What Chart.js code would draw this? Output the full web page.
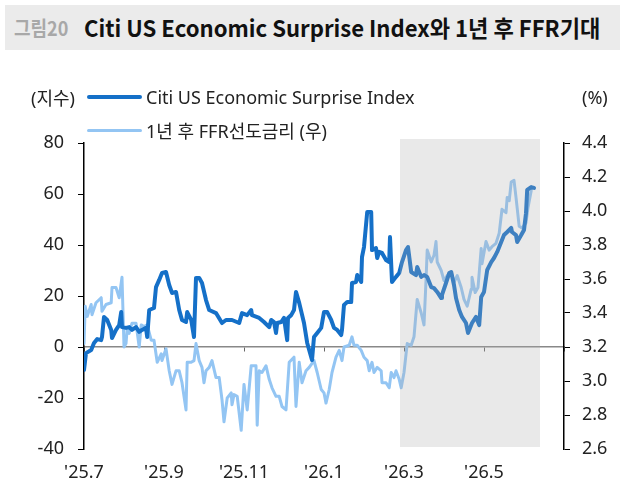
<!DOCTYPE html>
<html>
<head>
<meta charset="utf-8">
<script src="https://cdn.jsdelivr.net/npm/chart.js@4.4.1/dist/chart.umd.min.js"></script>
<style>
  body { margin: 0; background: #fff; }
  #wrap { position: relative; width: 626px; height: 496px; overflow: hidden; font-family: 'Noto Sans', 'Noto Sans CJK KR', sans-serif; }
  #myChart { position: absolute; left: 0; top: 0; }
  .abs { position: absolute; white-space: nowrap; }
  #titleBar { left: 5px; top: 5px; width: 615px; height: 45px; background: #ebebeb; }
  #figNo { left: 14px; top: 27px; font: bold 20px 'Noto Sans CJK KR'; color: #a8a8a8; transform-origin: left center; transform: translateY(-50%); }
  #figTitle { left: 84px; top: 27px; font: bold 23px 'Noto Sans CJK KR'; color: #111; transform-origin: left center; }
  .leg { font-size: 18px; color: #222; transform: translateY(-50%); }
  .swatch { position: absolute; height: 0; border-radius: 2px; }
</style>
</head>
<body>
<div id="wrap">
  <canvas id="myChart" width="626" height="496"></canvas>
  <div class="abs" id="titleBar"></div>
  <div class="abs" id="figNo">그림20</div>
  <div class="abs" id="figTitle">Citi US Economic Surprise Index와 1년 후 FFR기대</div>
  <div class="abs leg" style="left:31px; top:97px;">(지수)</div>
  <div class="swatch" style="left:87px; top:95px; width:55px; border-top:4px solid #1570c8;"></div>
  <div class="abs leg" style="left:146px; top:97px;">Citi US Economic Surprise Index</div>
  <div class="swatch" style="left:87px; top:129px; width:55px; border-top:3px solid #93c5f3;"></div>
  <div class="abs leg" style="left:146px; top:130px;">1년 후 FFR선도금리 (우)</div>
  <div class="abs leg" style="left:582px; top:97px;">(%)</div>
</div>
<script>
// x values are months counted from '25.7
var monthLabels = ["'25.7", "'25.9", "'25.11", "'26.1", "'26.3", "'26.5"];

var citiMonth = [0.00,0.05,0.18,0.25,0.33,0.43,0.45,0.50,0.58,0.68,0.70,0.80,0.88,0.93,0.95,1.05,1.13,1.20,1.30,1.38,
  1.45,1.55,1.58,1.63,1.75,1.80,1.88,1.95,2.05,2.13,2.20,2.30,2.38,2.45,2.55,2.58,2.68,2.75,2.80,2.88,
  2.95,3.05,3.13,3.30,3.45,3.55,3.70,3.88,3.95,4.08,4.18,4.20,4.38,4.50,4.63,4.68,4.75,4.80,4.83,4.93,
  5.00,5.08,5.10,5.18,5.25,5.30,5.38,5.50,5.58,5.70,5.75,5.83,5.93,6.00,6.08,6.18,6.25,6.33,6.43,6.45,
  6.50,6.58,6.68,6.70,6.80,6.83,6.93,6.95,7.00,7.08,7.18,7.20,7.30,7.33,7.38,7.45,7.55,7.63,7.65,7.70,
  7.80,7.88,7.95,8.05,8.10,8.18,8.30,8.33,8.43,8.50,8.58,8.68,8.75,8.83,8.93,8.95,9.05,9.13,9.18,9.25,
  9.30,9.38,9.45,9.55,9.60,9.70,9.80,9.88,9.93,10.00,10.08,10.18,10.25,10.33,10.43,10.50,10.58,10.68,10.70,10.80,
  10.83,10.93,11.00,11.05,11.08,11.18,11.25];
var citiValue = [-9.0,-2.4,-1.2,1.6,3.1,2.7,3.9,11.8,10.6,6.7,3.5,6.7,8.6,13.7,7.8,7.5,7.8,6.7,7.8,5.9,
  6.7,7.5,3.9,14.5,15.3,23.5,26.3,29.0,29.4,24.3,21.2,21.6,14.5,10.6,9.8,13.7,10.6,3.9,27.1,27.1,
  25.1,18.4,14.5,13.3,9.4,10.6,10.6,9.4,13.3,12.5,14.5,12.5,11.4,9.8,7.8,10.6,9.8,5.5,9.4,9.8,
  11.4,2.7,11.4,12.5,14.5,21.6,17.3,9.4,1.6,-5.1,3.9,5.5,7.5,13.7,13.7,10.6,7.5,6.7,4.7,6.7,
  16.5,17.6,17.6,25.1,25.5,28.2,25.5,35.3,39.2,52.9,52.9,38.0,38.8,34.9,37.3,36.9,34.1,33.3,43.1,25.5,
  27.5,29.0,33.3,38.0,39.2,29.4,28.2,31.4,27.5,28.2,27.5,23.5,23.1,21.6,19.2,20.4,25.1,29.0,29.4,24.3,
  19.2,14.5,11.8,9.4,5.5,9.4,11.8,8.6,19.6,21.6,30.2,33.3,34.9,37.3,41.2,43.9,45.1,46.7,45.1,43.9,
  41.2,43.9,45.9,52.5,61.6,62.7,62.4];

var ffrMonth = [0.00,0.03,0.08,0.18,0.20,0.30,0.43,0.45,0.55,0.68,0.70,0.80,0.88,0.95,1.00,1.05,1.08,1.13,1.20,1.30,
  1.38,1.43,1.50,1.58,1.68,1.75,1.83,1.93,1.95,2.05,2.13,2.20,2.30,2.38,2.45,2.55,2.58,2.68,2.75,2.80,
  2.88,2.95,3.00,3.05,3.13,3.20,3.30,3.38,3.45,3.50,3.58,3.68,3.70,3.75,3.83,3.93,4.00,4.08,4.18,4.30,
  4.33,4.38,4.45,4.55,4.63,4.70,4.80,4.88,4.95,5.05,5.13,5.25,5.30,5.38,5.45,5.55,5.63,5.75,5.83,5.93,
  6.00,6.05,6.13,6.20,6.30,6.38,6.45,6.50,6.63,6.70,6.75,6.83,6.93,7.00,7.08,7.13,7.20,7.25,7.33,7.43,
  7.45,7.55,7.63,7.68,7.75,7.80,7.88,7.93,8.00,8.08,8.18,8.25,8.33,8.43,8.50,8.55,8.58,8.68,8.75,8.80,
  8.83,8.93,9.00,9.08,9.18,9.25,9.33,9.43,9.50,9.58,9.68,9.70,9.78,9.85,9.93,9.95,10.05,10.13,10.20,10.30,
  10.38,10.45,10.55,10.58,10.63,10.68,10.75,10.80,10.88,10.95,11.05,11.10,11.18];
var ffrValue = [3.22,3.44,3.38,3.45,3.39,3.46,3.49,3.41,3.45,3.46,3.55,3.55,3.49,3.61,3.20,3.22,3.31,3.28,3.34,3.34,
  3.20,3.33,3.32,3.33,3.24,3.24,3.11,3.16,3.12,3.19,3.06,2.98,3.06,3.06,2.99,2.83,3.11,3.11,3.12,3.22,
  3.12,3.08,2.99,3.06,3.08,3.12,3.02,3.02,2.89,2.76,2.90,2.93,2.86,2.92,2.91,2.71,2.98,2.83,3.09,3.09,
  2.74,3.06,3.05,3.09,3.01,2.96,2.91,2.91,2.85,2.83,3.11,3.14,2.85,3.11,2.99,3.06,3.08,3.12,3.05,2.95,
  2.93,2.87,2.95,3.05,3.14,3.18,3.12,3.20,3.21,3.26,3.21,3.21,3.18,3.14,3.12,3.06,3.11,3.05,3.08,3.06,
  2.99,2.99,2.96,3.05,3.02,3.06,3.01,2.96,3.05,3.22,3.21,3.26,3.48,3.40,3.33,3.59,3.77,3.70,3.74,3.82,
  3.70,3.65,3.59,3.62,3.64,3.58,3.62,3.55,3.48,3.44,3.54,3.61,3.52,3.55,3.78,3.69,3.82,3.77,3.79,3.81,
  3.87,4.01,3.99,4.08,4.06,4.17,4.18,4.08,3.91,3.90,3.93,4.02,4.12];

// shaded period, in the same month units
var shadeFrom = 7.9;
var shadeTo = 11.4;

var tickFont = { family: "'Noto Sans', 'Noto Sans CJK KR', sans-serif", size: 18 };

var shadePlugin = {
  id: 'shadeBox',
  afterDatasetsDraw: function(chart) {
    var ctx = chart.ctx;
    var x = chart.scales.x;
    var area = chart.chartArea;
    var x1 = x.getPixelForValue(shadeFrom);
    var x2 = x.getPixelForValue(shadeTo);
    ctx.save();
    ctx.fillStyle = 'rgba(175,175,175,0.27)';
    ctx.fillRect(x1, area.top - 4, x2 - x1, area.bottom - area.top + 2);
    ctx.restore();
  }
};

function toPoints(xs, ys) {
  return xs.map(function(m, i) { return { x: m, y: ys[i] }; });
}

document.addEventListener('DOMContentLoaded', function() {
  // squeeze the condensed-looking title to the width it has in the figure
  var t = document.getElementById('figTitle');
  t.style.transform = 'translateY(-50%) scaleX(' + (516 / t.offsetWidth) + ')';
  var f = document.getElementById('figNo');
  f.style.transform = 'translateY(-50%) scaleX(' + (54 / f.offsetWidth) + ')';

  const myChart = document.getElementById('myChart');
  var dataChart = new Chart(myChart, {
    type: 'line',
    plugins: [shadePlugin],
    data: {
      datasets: [
        {
          label: 'Citi US Economic Surprise Index',
          data: toPoints(citiMonth, citiValue),
          borderColor: '#1570c8',
          borderWidth: 4,
          yAxisID: 'y',
          xAxisID: 'x'
        },
        {
          label: '1년 후 FFR선도금리 (우)',
          data: toPoints(ffrMonth, ffrValue),
          borderColor: '#93c5f3',
          borderWidth: 3,
          yAxisID: 'y2',
          xAxisID: 'x'
        }
      ]
    },
    options: {
      responsive: false,
      animation: false,
      devicePixelRatio: 1,
      layout: { padding: { top: 143, left: 0, right: 0, bottom: 0 } },
      elements: {
        point: { radius: 0 },
        line: { tension: 0, borderJoinStyle: 'round', borderCapStyle: 'round' }
      },
      plugins: { legend: { display: false }, tooltip: { enabled: false } },
      scales: {
        x: {
          type: 'linear',
          position: 'bottom',
          min: 0, max: 12,
          grid: { display: false },
          border: { display: false },
          ticks: {
            stepSize: 2, padding: 5, color: '#222', font: tickFont, maxRotation: 0, autoSkip: false,
            callback: function(v) { return monthLabels[v / 2] || ''; }
          },
          afterFit: function(s) { s.height = 47; }
        },
        x0: {
          type: 'linear',
          position: { y: 0 },
          min: 0, max: 12,
          grid: { display: true, drawOnChartArea: false, drawTicks: true, tickLength: 4, color: '#666' },
          border: { display: true, color: '#888', width: 1.5 },
          ticks: { stepSize: 2, display: false }
        },
        y: {
          position: 'left',
          min: -40, max: 80,
          grid: { display: true, drawOnChartArea: false, drawTicks: true, tickLength: 6, color: '#000' },
          border: { display: true, color: '#000', width: 1.5 },
          ticks: { stepSize: 20, padding: 14, color: '#222', font: tickFont },
          afterFit: function(s) { s.width = 84; }
        },
        y2: {
          position: 'right',
          min: 2.6, max: 4.4,
          grid: { display: true, drawOnChartArea: false, drawTicks: true, tickLength: 6, color: '#000' },
          border: { display: true, color: '#000', width: 1.5 },
          ticks: {
            stepSize: 0.2, padding: 12, color: '#222', font: tickFont,
            callback: function(v) { return Number(v).toFixed(1); }
          },
          afterFit: function(s) { s.width = 62; }
        }
      }
    }
  });
});
</script>
</body>
</html>
